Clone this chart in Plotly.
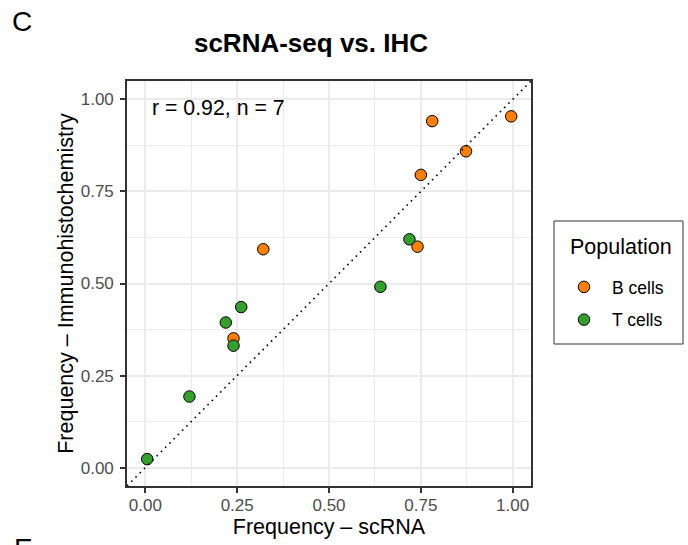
import plotly.graph_objects as go

# ---- data ----
populations = ["B cells", "T cells"]
b_scrna = [0.781, 0.996, 0.873, 0.750, 0.321, 0.741, 0.240]
b_ihc = [0.941, 0.954, 0.859, 0.795, 0.593, 0.600, 0.351]
t_scrna = [0.719, 0.640, 0.261, 0.219, 0.240, 0.120, 0.005]
t_ihc = [0.620, 0.491, 0.436, 0.394, 0.331, 0.193, 0.023]
tick_vals = [0.0, 0.25, 0.5, 0.75, 1.0]
tick_text = ["0.00", "0.25", "0.50", "0.75", "1.00"]
stat_label = "r = 0.92, n = 7"
legend_title = "Population"

colors = {"B cells": "#FF7F00", "T cells": "#33A02C"}
FONT = "Liberation Sans, Arial, Helvetica, sans-serif"

W, H = 688, 545
# panel edges in screen pixels
P_L, P_R, P_T, P_B = 127, 531, 81, 486
L, T = P_L, P_T
R, B = W - P_R, H - P_B
PW, PH = W - L - R, H - T - B


def px_x(px):
    return (px - L) / PW


def px_y(py):
    return (H - B - py) / PH


fig = go.Figure()
for name, xs, ys in [("B cells", b_scrna, b_ihc), ("T cells", t_scrna, t_ihc)]:
    fig.add_trace(go.Scatter(
        x=xs, y=ys, mode="markers", name=name, legendgroup=name,
        marker=dict(size=11.5, color=colors[name], line=dict(color="black", width=1)),
    ))

rng = [-0.05, 1.05]
# identity reference line across the panel
fig.add_shape(type="line", xref="x", yref="y", x0=rng[0], y0=rng[0], x1=rng[1], y1=rng[1],
              line=dict(color="black", width=1.6, dash="1.6px,4.4px"), layer="above")

axis_common = dict(
    range=rng, tickvals=tick_vals, ticktext=tick_text,
    showgrid=True, gridcolor="#EBEBEB", gridwidth=1.5,
    minor=dict(dtick=0.125, tick0=0, showgrid=True, gridcolor="#EBEBEB", gridwidth=0.8, ticks=""),
    zeroline=False, showline=True, linecolor="#333333", linewidth=1.6, mirror=True,
    ticks="outside", ticklen=5, tickwidth=1.5, tickcolor="#333333",
    tickfont=dict(family=FONT, size=17, color="#4D4D4D"),
)

fig.update_xaxes(**axis_common, ticklabelstandoff=-2,
                 title=dict(text="Frequency – scRNA", font=dict(family=FONT, size=21.5, color="black"), standoff=2))
fig.update_yaxes(**axis_common, ticklabelstandoff=3,
                 title=dict(text="Frequency – Immunohistochemistry", font=dict(family=FONT, size=21.5, color="black"), standoff=1))

fig.add_annotation(text=stat_label, xref="paper", yref="paper", x=px_x(150), y=px_y(108),
                   xanchor="left", yanchor="middle", showarrow=False,
                   font=dict(family=FONT, size=21.3, color="black"))
fig.add_annotation(text="C", xref="paper", yref="paper", x=px_x(10), y=px_y(21),
                   xanchor="left", yanchor="middle", showarrow=False,
                   font=dict(family=FONT, size=28, color="black"))
fig.add_annotation(text="E", xref="paper", yref="paper", x=px_x(12), y=px_y(548),
                   xanchor="left", yanchor="middle", showarrow=False,
                   font=dict(family=FONT, size=28, color="black"))

# legend frame and title
fig.add_shape(type="rect", xref="paper", yref="paper", x0=px_x(554), x1=px_x(683), y0=px_y(221), y1=px_y(344),
              line=dict(color="#333333", width=1), fillcolor="white", layer="below")
fig.add_annotation(text=legend_title, xref="paper", yref="paper", x=px_x(568), y=px_y(247),
                   xanchor="left", yanchor="middle", showarrow=False,
                   font=dict(family=FONT, size=21.5, color="black"))

fig.update_layout(
    width=W, height=H,
    margin=dict(l=L, r=R, t=T, b=B, autoexpand=False),
    paper_bgcolor="white", plot_bgcolor="white",
    title=dict(text="<b>scRNA-seq vs. IHC</b>", x=311 / W, xanchor="center",
               y=1 - 43 / H, yanchor="middle", font=dict(family=FONT, size=26, color="black")),
    showlegend=True,
    legend=dict(
        font=dict(family=FONT, size=17.5, color="black"),
        x=px_x(556), y=px_y(269), xanchor="left", yanchor="top",
        borderwidth=0, bgcolor="rgba(0,0,0,0)", itemwidth=46, tracegroupgap=7,
    ),
    font=dict(family=FONT),
)

fig.write_html(
    "out.html",
    config={"displayModeBar": False},
    post_script="document.body.style.margin='0';document.body.style.overflow='hidden';",
)
